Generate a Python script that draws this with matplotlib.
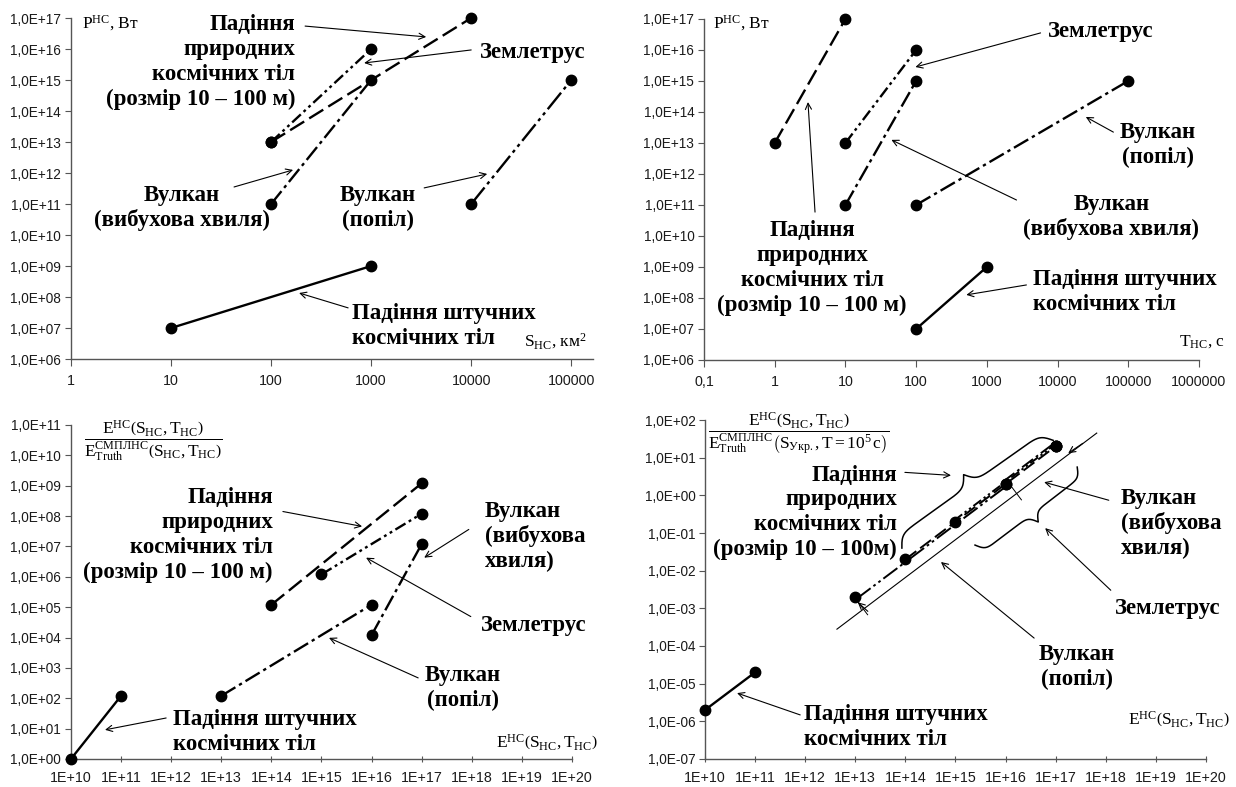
import numpy as np
import matplotlib

matplotlib.use("Agg")
import matplotlib.pyplot as plt
from matplotlib.ticker import FixedLocator, FuncFormatter, NullLocator

plt.rcParams["font.family"] = ["Liberation Sans", "DejaVu Sans"]
plt.rcParams["mathtext.fontset"] = "custom"
plt.rcParams["mathtext.rm"] = "Liberation Serif"
plt.rcParams["mathtext.it"] = "Liberation Serif:italic"
plt.rcParams["mathtext.bf"] = "Liberation Serif:bold"

# --- panel 1: power P (W) vs area S (km2)
s_natural, ps_natural = [1e2, 1e4], [1e13, 1e17]
s_quake, ps_quake = [1e2, 1e3], [1e13, 1e16]
s_blast, ps_blast = [1e2, 1e3], [1e11, 1e15]
s_ash, ps_ash = [1e4, 1e5], [1e11, 1e15]
s_artif, ps_artif = [1e1, 1e3], [1e7, 1e9]

# --- panel 2: power P (W) vs duration T (s)
t_natural, pt_natural = [1, 10], [1e13, 1e17]
t_quake, pt_quake = [10, 100], [1e13, 1e16]
t_blast, pt_blast = [10, 100], [1e11, 1e15]
t_ash, pt_ash = [100, 1e5], [1e11, 1e15]
t_artif, pt_artif = [100, 1000], [1e7, 1e9]

# --- panel 3: ratio E / E_truth vs energy E
e_natural, r_natural = [1e14, 1e17], [1.2e5, 1.2e9]
e_quake, r_quake = [1e15, 1e17], [1.2e6, 1.2e8]
e_blast, r_blast = [1e16, 1e17], [1.2e4, 1.2e7]
e_ash, r_ash = [1e13, 1e16], [1.2e2, 1.2e5]
e_artif, r_artif = [1e10, 1e11], [1.0, 1.2e2]

# --- panel 4: ratio E / E_truth(Ukraine, T=1e5 s) vs energy E
u_natural = [2e-2, 2e1]
u_quake = [2e-1, 2e1]
u_blast = [2e0, 2e1]
u_ash = [2e-3, 2e0]
e_artif4, u_artif = [1e10, 1e11], [2e-6, 2e-5]
guide_e, guide_u = [4.3e12, 6.6e17], [2.8e-4, 4.5e1]

STYLE = {
    "natural": (0, (7, 2.5)),
    "quake": (0, (5, 1.6, 1.2, 1.6, 1.2, 1.6)),
    "blast": (0, (7, 1.8, 1.4, 1.8)),
    "ash": (0, (9, 1.8, 1.4, 1.8, 1.4, 1.8)),
    "artif": "-",
}

SERIF = ["Liberation Serif", "DejaVu Serif"]

fig = plt.figure(figsize=(12.36, 7.87), dpi=100)
ax1 = fig.add_axes([0.0574, 0.5438, 0.4226, 0.4333])
ax2 = fig.add_axes([0.5696, 0.5426, 0.4004, 0.4333])
ax3 = fig.add_axes([0.0574, 0.0356, 0.4054, 0.4244])
ax4 = fig.add_axes([0.5704, 0.0356, 0.4053, 0.4307])


def yfmt(v, _):
    return "1,0E{:+03d}".format(int(round(np.log10(v))))


def plain_fmt(v, _):
    return "0,1" if v < 1 else str(int(round(v)))


def exp_fmt(v, _):
    return "1E+{:02d}".format(int(round(np.log10(v))))


def setup(ax, xlim, ylim, xfmt, xdir="out"):
    ax.set_xscale("log")
    ax.set_yscale("log")
    ax.set_xlim(*xlim)
    ax.set_ylim(*ylim)
    lo, hi = [int(round(np.log10(v))) for v in ylim]
    ax.yaxis.set_major_locator(FixedLocator([10.0**k for k in range(lo, hi + 1)]))
    xlo = int(np.ceil(np.log10(xlim[0]) - 1e-9))
    xhi = int(np.floor(np.log10(xlim[1]) + 1e-9))
    ax.xaxis.set_major_locator(FixedLocator([10.0**k for k in range(xlo, xhi + 1)]))
    ax.xaxis.set_minor_locator(NullLocator())
    ax.yaxis.set_minor_locator(NullLocator())
    ax.yaxis.set_major_formatter(FuncFormatter(yfmt))
    ax.xaxis.set_major_formatter(FuncFormatter(xfmt))
    for side in ("top", "right"):
        ax.spines[side].set_visible(False)
    for side in ("left", "bottom"):
        ax.spines[side].set_color("#555555")
        ax.spines[side].set_linewidth(1.0)
    ax.tick_params(axis="y", direction="out", length=4, color="#555555",
                   labelsize=9.8, labelcolor="#1a1a1a", pad=3)
    ax.tick_params(axis="x", direction=xdir, length=5, color="#555555",
                   labelsize=10.3, labelcolor="#1a1a1a", pad=6)
    ax.patch.set_alpha(0)


def series(ax, x, y, kind, **kw):
    ax.plot(x, y, color="black", lw=1.7, ls=STYLE[kind], marker="o", ms=7.5,
            mfc="black", mec="black", clip_on=False, zorder=3, **kw)


def label(ax, lx, ly, s, ha="center", size=16.5, spacing=1.08):
    # one text per line, so each line keeps its own tight box
    lines = s.split("\n")
    step = size * spacing
    for i, line in enumerate(lines):
        off = ((len(lines) - 1) / 2 - i) * step
        ax.annotate(line, xy=(10**lx, 10**ly), xytext=(0, off),
                    textcoords="offset points", ha=ha, va="center",
                    fontsize=size, fontweight="bold", family=SERIF, zorder=4)


def arrow(ax, start, tip):
    ax.annotate("", xy=(10**tip[0], 10**tip[1]), xytext=(10**start[0], 10**start[1]),
                arrowprops=dict(arrowstyle="->", lw=0.8, color="black",
                                shrinkA=0, shrinkB=0, mutation_scale=11),
                zorder=4)


def axis_text(ax, lx, ly, s, ha="left", size=12.5):
    ax.text(10**lx, 10**ly, s, ha=ha, va="center", fontsize=size, family=SERIF)


NAT = "Падіння\nприродних\nкосмічних тіл\n(розмір 10 – 100 м)"
ART = "Падіння штучних\nкосмічних тіл"
QUAKE = "Землетрус"

# ---------------- panel 1
setup(ax1, (1, 10**5.22), (1e6, 1e17), plain_fmt)
series(ax1, s_natural, ps_natural, "natural")
series(ax1, s_quake, ps_quake, "quake")
series(ax1, s_blast, ps_blast, "blast")
series(ax1, s_ash, ps_ash, "ash")
series(ax1, s_artif, ps_artif, "artif")
label(ax1, 2.24, 15.58, NAT, ha="right")
arrow(ax1, (2.34, 16.74), (3.55, 16.39))
label(ax1, 4.09, 15.90, QUAKE, ha="left")
arrow(ax1, (4.0, 15.97), (2.93, 15.55))
label(ax1, 1.11, 10.87, "Вулкан\n(вибухова хвиля)")
arrow(ax1, (1.63, 11.55), (2.22, 12.1))
label(ax1, 3.07, 10.87, "Вулкан\n(попіл)")
arrow(ax1, (3.53, 11.52), (4.16, 11.97))
label(ax1, 2.81, 7.06, ART, ha="left")
arrow(ax1, (2.77, 7.65), (2.28, 8.13))
axis_text(ax1, 5.15, 6.57, r"S$_{\mathrm{НС}}$, км$^{2}$", ha="right")
axis_text(ax1, 0.11, 16.84, r"P$^{\mathrm{НС}}$, Вт")

# ---------------- panel 2
setup(ax2, (0.1, 1e6), (1e6, 1e17), plain_fmt)
series(ax2, t_natural, pt_natural, "natural")
series(ax2, t_quake, pt_quake, "quake")
series(ax2, t_blast, pt_blast, "blast")
series(ax2, t_ash, pt_ash, "blast")
series(ax2, t_artif, pt_artif, "artif")
label(ax2, 3.87, 16.61, QUAKE, ha="left")
arrow(ax2, (3.76, 16.55), (1.99, 15.45))
label(ax2, 5.42, 12.94, "Вулкан\n(попіл)")
arrow(ax2, (4.79, 13.35), (4.40, 13.84))
label(ax2, 4.76, 10.61, "Вулкан\n(вибухова хвиля)")
arrow(ax2, (3.42, 11.16), (1.65, 13.1))
label(ax2, 0.53, 8.97, NAT)
arrow(ax2, (0.57, 10.77), (0.47, 14.32))
label(ax2, 3.65, 8.19, ART, ha="left")
arrow(ax2, (3.56, 8.42), (2.71, 8.10))
axis_text(ax2, 6.37, 6.58, r"T$_{\mathrm{НС}}$, с", ha="right")
axis_text(ax2, -0.87, 16.87, r"P$^{\mathrm{НС}}$, Вт")

# ---------------- panel 3
setup(ax3, (1e10, 1e20), (1, 1e11), exp_fmt, xdir="inout")
series(ax3, e_natural, r_natural, "natural")
series(ax3, e_quake, r_quake, "quake")
series(ax3, e_blast, r_blast, "blast")
series(ax3, e_ash, r_ash, "blast")
series(ax3, e_artif, r_artif, "artif")
label(ax3, 14.03, 7.38, NAT, ha="right")
arrow(ax3, (14.23, 8.15), (15.81, 7.66))
label(ax3, 18.26, 7.33, "Вулкан\n(вибухова\nхвиля)", ha="left")
arrow(ax3, (17.94, 7.56), (17.05, 6.63))
label(ax3, 18.18, 4.39, QUAKE, ha="left")
arrow(ax3, (17.98, 4.69), (15.89, 6.63))
label(ax3, 17.82, 2.34, "Вулкан\n(попіл)")
arrow(ax3, (16.93, 2.67), (15.15, 3.99))
label(ax3, 12.04, 0.89, ART, ha="left")
arrow(ax3, (11.9, 1.35), (10.68, 0.96))

NUM = r"\mathrm{E}^{\mathrm{НС}}\left(\mathrm{S}_{\mathrm{НС}},\mathrm{T}_{\mathrm{НС}}\right)"
DEN3 = (r"\mathrm{E}^{\mathrm{СМПЛНС}}_{\mathrm{Truth}}"
        r"\left(\mathrm{S}_{\mathrm{НС}},\mathrm{T}_{\mathrm{НС}}\right)")
DEN4 = (r"\mathrm{E}^{\mathrm{СМПЛНС}}_{\mathrm{Truth}}"
        r"\left(\mathrm{S}_{\mathrm{Укр.}},\mathrm{T}=10^{5}\,\mathrm{с}\right)")
axis_text(ax3, 11.64, 10.48, "$\\dfrac{" + NUM + "}{" + DEN3 + "}$", ha="center", size=12.5)
axis_text(ax3, 20.52, 0.55, "$" + NUM + "$", ha="right")

# ---------------- panel 4
setup(ax4, (1e10, 1e20), (1e-7, 1e2), exp_fmt, xdir="inout")

# the four natural hazards coincide; shift them a few pixels to show the bundle
slope = np.array([50.1, 37.7]) / np.hypot(50.1, 37.7)
normal = np.array([-slope[1], slope[0]])
for e_vals, u_vals, kind, off in [
    (e_ash, u_ash, "ash", -2.2),
    (e_natural, u_natural, "natural", 0.0),
    (e_quake, u_quake, "quake", 1.8),
    (e_blast, u_blast, "blast", 3.4),
]:
    tr = matplotlib.transforms.offset_copy(ax4.transData, fig=fig,
                                           x=normal[0] * off, y=normal[1] * off,
                                           units="dots")
    ax4.plot(e_vals, u_vals, color="black", lw=1.4, ls=STYLE[kind],
             transform=tr, zorder=3)
for e_vals, u_vals in [(e_ash, u_ash), (e_natural, u_natural),
                       (e_quake, u_quake), (e_blast, u_blast)]:
    ax4.plot(e_vals, u_vals, ls="none", marker="o", ms=7.5, color="black",
             clip_on=False, zorder=4)
series(ax4, e_artif4, u_artif, "artif")
ax4.plot(guide_e, guide_u, color="black", lw=0.8, zorder=2)


def to_px(ax, lx, ly):
    return ax.transData.transform((10**lx, 10**ly))


def from_px(ax, pts):
    return ax.transData.inverted().transform(pts)


def brace(ax, p0, p1, h, k=45.0):
    a, b = to_px(ax, *p0), to_px(ax, *p1)
    d = b - a
    length = np.hypot(*d)
    u = d / length
    n = np.array([-u[1], u[0]])
    t = np.linspace(0, 0.5, 150)
    yh = 1 / (1 + np.exp(-k * t)) + 1 / (1 + np.exp(-k * (t - 0.5))) - 0.5
    s = np.concatenate([t, 1 - t[::-1]])
    y = np.concatenate([yh, yh[::-1]])
    pts = a + np.outer(s * length, u) + np.outer(y * h, n)
    dat = from_px(ax, pts)
    ax.plot(dat[:, 0], dat[:, 1], color="black", lw=1.1, clip_on=False, zorder=4)


def cross_tick(ax, lx, ly, size=8):
    c = to_px(ax, lx, ly)
    pts = np.array([c - normal * size, c + normal * size])
    dat = from_px(ax, pts)
    ax.plot(dat[:, 0], dat[:, 1], color="black", lw=0.7, zorder=2)


brace(ax4, (13.93, -1.40), (16.95, 1.46), 24)
brace(ax4, (17.43, 0.75), (15.39, -1.32), 20)
cross_tick(ax4, 13.15, -3.0)
cross_tick(ax4, 16.22, 0.05)
arrow(ax4, (17.54, 1.38), (17.25, 1.12))
arrow(ax4, (13.25, -3.08), (13.05, -2.84))

label(ax4, 13.83, -0.45, "Падіння\nприродних\nкосмічних тіл\n(розмір 10 – 100м)", ha="right")
arrow(ax4, (13.99, 0.61), (14.91, 0.53))
label(ax4, 18.30, -0.74, "Вулкан\n(вибухова\nхвиля)", ha="left")
arrow(ax4, (18.06, -0.13), (16.77, 0.35))
label(ax4, 18.18, -3.0, QUAKE, ha="left")
arrow(ax4, (18.10, -2.52), (16.79, -0.87))
label(ax4, 17.43, -4.56, "Вулкан\n(попіл)")
arrow(ax4, (16.57, -3.79), (14.71, -1.77))
label(ax4, 11.98, -6.15, ART, ha="left")
arrow(ax4, (11.90, -5.83), (10.64, -5.25))
axis_text(ax4, 11.88, 1.62, "$\\dfrac{" + NUM + "}{" + DEN4 + "}$", ha="center", size=12.5)
axis_text(ax4, 20.48, -5.94, "$" + NUM + "$", ha="right")

fig.savefig("out.png", dpi=100)
